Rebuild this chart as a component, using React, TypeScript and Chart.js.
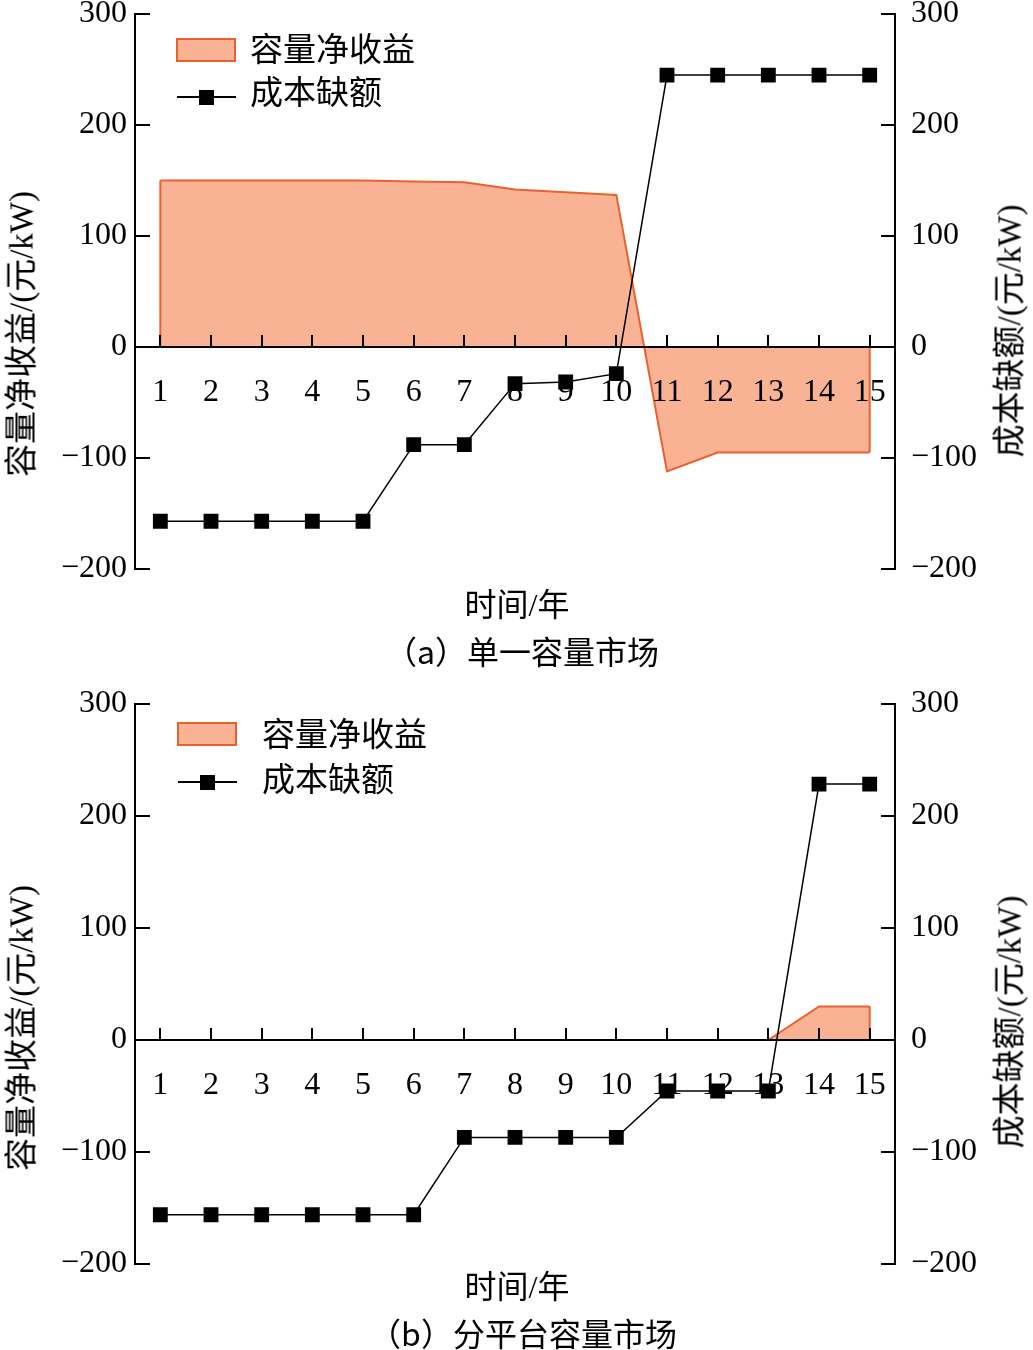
import React, { useEffect, useRef } from 'react';
import { Chart, registerables } from 'chart.js';

Chart.register(...registerables);

// ---------- data ----------
const years = ['1', '2', '3', '4', '5', '6', '7', '8', '9', '10', '11', '12', '13', '14', '15'];
const yTickValues = [-200, -100, 0, 100, 200, 300];

// panel (a) 单一容量市场
const netRevenueA = [150, 150, 150, 150, 150, 149, 148.5, 142, 139.5, 137, -112, -95, -95, -95, -95];
const costGapA = [-157, -157, -157, -157, -157, -88, -88, -33, -31.5, -24, 245, 245, 245, 245, 245];

// panel (b) 分平台容量市场
const netRevenueB = [null, null, null, null, null, null, null, null, null, null, null, null, 0, 30, 30];
const costGapB = [-156, -156, -156, -156, -156, -156, -87, -87, -87, -87, -45.5, -45.5, -45.5, 228.5, 228.5];

const seriesNames = ['容量净收益', '成本缺额'];
const leftTitle = '容量净收益/(元/kW)';
const rightTitle = '成本缺额/(元/kW)';
const xTitle = '时间/年';
const captionA = '（a）单一容量市场';
const captionB = '（b）分平台容量市场';

const FILL = '#F9B394';
const EDGE = '#E9612D';
const SERIF = "'Liberation Serif', 'Times New Roman', serif";
const MIXED = "'Liberation Serif', 'Noto Sans CJK SC', serif";
const CJKFIRST = "'Noto Sans CJK SC', 'Liberation Serif', serif";

const fmt = (v: number) => (v < 0 ? '\u2212' + Math.abs(v) : String(v));

const decorPlugin = {
  id: 'decor',
  afterDatasetDraw(chart: any, args: any) {
    if (args.index !== 1) return;
    const meta = args.meta;
    const ys = chart.scales.y;
    const zero = ys.getPixelForValue(0);
    const pts = meta.data.filter((p: any) => !p.skip && p.y != null && !isNaN(p.y));
    if (!pts.length) return;
    const ctx = chart.ctx;
    ctx.save();
    ctx.strokeStyle = EDGE;
    ctx.lineWidth = 2;
    ctx.beginPath();
    const first = pts[0];
    const last = pts[pts.length - 1];
    ctx.moveTo(first.x, zero);
    ctx.lineTo(first.x, first.y);
    ctx.moveTo(last.x, zero);
    ctx.lineTo(last.x, last.y);
    ctx.stroke();
    ctx.restore();
  },
  afterDraw(chart: any) {
    const ctx = chart.ctx;
    const { left, right } = chart.chartArea;
    const ys = chart.scales.y;
    const y1 = chart.scales.y1;
    const xs = chart.scales.x;
    ctx.save();
    ctx.strokeStyle = '#000';
    ctx.lineWidth = 2;
    ctx.beginPath();
    ys.ticks.forEach((t: any) => {
      const p = Math.round(ys.getPixelForValue(t.value));
      ctx.moveTo(left, p);
      ctx.lineTo(left + 15, p);
    });
    y1.ticks.forEach((t: any) => {
      const p = Math.round(y1.getPixelForValue(t.value));
      ctx.moveTo(right, p);
      ctx.lineTo(right - 14, p);
    });
    const zero = ys.getPixelForValue(0);
    xs.ticks.forEach((_t: any, i: number) => {
      const p = Math.round(xs.getPixelForTick(i));
      ctx.moveTo(p, zero);
      ctx.lineTo(p, zero - 12);
    });
    ctx.stroke();
    ctx.restore();
  },
};

function makeConfig(net: (number | null)[], gap: number[], padTop: number, padBottom: number): any {
  const yAxis = (pos: 'left' | 'right', width: number, pad: number) => ({
    position: pos,
    min: -200,
    max: 300,
    afterBuildTicks: (s: any) => {
      s.ticks = yTickValues.map((v) => ({ value: v }));
    },
    afterFit: (s: any) => {
      s.width = width;
      s.paddingTop = 0;
      s.paddingBottom = 0;
    },
    grid: { display: false, drawTicks: false },
    border: { display: true, color: '#000', width: 2 },
    ticks: {
      color: '#000',
      padding: pad,
      font: { family: SERIF, size: 32 },
      callback: (v: any) => fmt(Number(v)),
    },
  });
  return {
    type: 'line',
    data: {
      labels: years,
      datasets: [
        {
          label: seriesNames[1],
          data: gap,
          yAxisID: 'y1',
          borderColor: '#000',
          borderWidth: 1.5,
          pointStyle: 'rect',
          pointRadius: 10.5,
          pointBackgroundColor: '#000',
          pointBorderColor: '#000',
          pointBorderWidth: 0,
          fill: false,
          tension: 0,
          order: 0,
        },
        {
          label: seriesNames[0],
          data: net,
          yAxisID: 'y',
          borderColor: EDGE,
          borderWidth: 2,
          backgroundColor: FILL,
          pointRadius: 0,
          fill: 'origin',
          tension: 0,
          spanGaps: false,
          order: 1,
        },
      ],
    },
    options: {
      responsive: false,
      animation: false,
      devicePixelRatio: 1,
      events: [],
      layout: { padding: { top: padTop, bottom: padBottom, left: 0, right: 0 } },
      plugins: { legend: { display: false }, tooltip: { enabled: false } },
      scales: {
        x: {
          type: 'category',
          position: { y: 0 },
          offset: true,
          afterFit: (s: any) => {
            s.paddingLeft = 0;
            s.paddingRight = 0;
          },
          grid: { display: false, drawTicks: false, offset: true },
          border: { display: true, color: '#000', width: 2, z: 1 },
          ticks: {
            z: 1,
            color: '#000',
            padding: 26,
            autoSkip: false,
            maxRotation: 0,
            font: { family: SERIF, size: 32 },
          },
        },
        y: yAxis('left', 135, 8),
        y1: yAxis('right', 138, 16),
      },
    },
    plugins: [decorPlugin],
  };
}

function Panel(props: { top: number; net: (number | null)[]; gap: number[]; padTop: number; padBottom: number }) {
  const ref = useRef<HTMLCanvasElement | null>(null);
  useEffect(() => {
    if (!ref.current) return;
    const chart = new Chart(ref.current, makeConfig(props.net, props.gap, props.padTop, props.padBottom));
    return () => chart.destroy();
  }, []);
  return (
    <canvas
      ref={ref}
      width={1033}
      height={600}
      style={{ position: 'absolute', left: 0, top: props.top, width: 1033, height: 600, display: 'block' }}
    />
  );
}

const textStyle = (
  x: number,
  y: number,
  size: number,
  anchor: 'left' | 'center',
  rotate = false,
  family = MIXED
): React.CSSProperties => ({
  position: 'absolute',
  left: x,
  top: y,
  transform: rotate
    ? 'translate(-50%, -50%) rotate(-90deg)'
    : anchor === 'center'
    ? 'translate(-50%, -50%)'
    : 'translate(0, -50%)',
  fontFamily: family,
  fontSize: size,
  lineHeight: 1,
  color: '#000',
  whiteSpace: 'nowrap',
});

function Legend(props: { swX: number; swY: number; lineY: number; textX: number; t1Y: number; t2Y: number }) {
  return (
    <>
      <div
        style={{
          position: 'absolute',
          left: props.swX,
          top: props.swY,
          width: 60,
          height: 24,
          boxSizing: 'border-box',
          background: FILL,
          border: `2px solid ${EDGE}`,
        }}
      />
      <div style={{ position: 'absolute', left: props.swX + 1, top: props.lineY - 1, width: 59, height: 2, background: '#000' }} />
      <div style={{ position: 'absolute', left: props.swX + 23, top: props.lineY - 7, width: 15, height: 15, background: '#000' }} />
      <div style={textStyle(props.textX, props.t1Y, 33, 'left')}>{seriesNames[0]}</div>
      <div style={textStyle(props.textX, props.t2Y, 33, 'left')}>{seriesNames[1]}</div>
    </>
  );
}

export default function App() {
  return (
    <div style={{ position: 'absolute', left: 0, top: 0, width: 1033, height: 1350, background: '#fff', overflow: 'hidden' }}>
      <Panel top={0} net={netRevenueA} gap={costGapA} padTop={14} padBottom={31} />
      <Panel top={680} net={netRevenueB} gap={costGapB} padTop={24} padBottom={16} />

      <Legend swX={176} swY={38} lineY={97} textX={250} t1Y={50} t2Y={93} />
      <Legend swX={177} swY={722} lineY={782} textX={262} t1Y={735} t2Y={780} />

      <div style={textStyle(22, 334, 33, 'center', true)}>{leftTitle}</div>
      <div style={textStyle(1010, 331, 33, 'center', true)}>{rightTitle}</div>
      <div style={textStyle(22, 1028, 33, 'center', true)}>{leftTitle}</div>
      <div style={textStyle(1010, 1022, 33, 'center', true)}>{rightTitle}</div>

      <div style={textStyle(517, 605, 32, 'center')}>{xTitle}</div>
      <div style={textStyle(522, 650, 32, 'center', false, CJKFIRST)}>{captionA}</div>
      <div style={textStyle(517, 1287, 32, 'center')}>{xTitle}</div>
      <div style={textStyle(523, 1332, 32, 'center', false, CJKFIRST)}>{captionB}</div>
    </div>
  );
}
